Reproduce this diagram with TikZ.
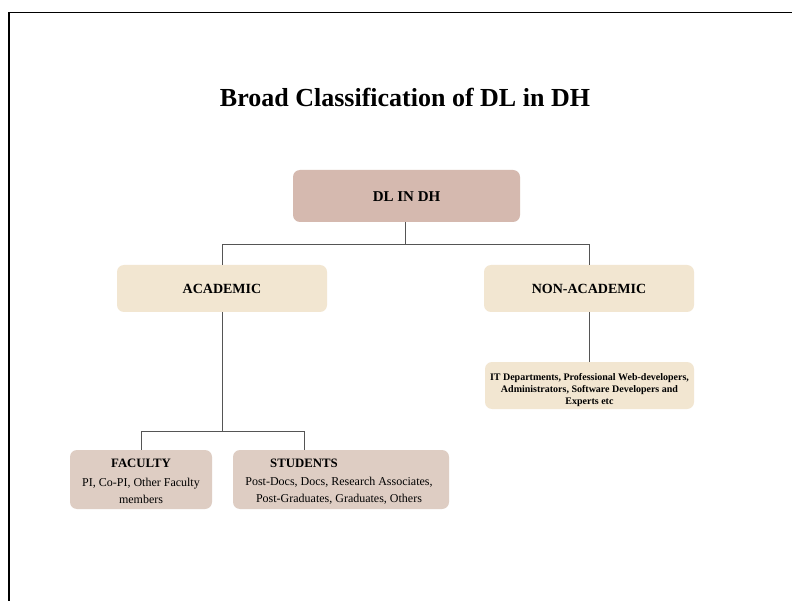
\documentclass[tikz,border=0pt]{standalone}
\usepackage{fontspec}
\setmainfont{Liberation Serif}
\definecolor{rosebox}{HTML}{D5B9AF}
\definecolor{creambox}{HTML}{F2E6D1}
\definecolor{taupebox}{HTML}{DECDC3}
\definecolor{linegray}{HTML}{555555}
\begin{document}
\begin{tikzpicture}[x=1pt,y=-1pt,
  box/.style={rounded corners=7pt, inner sep=0pt, align=center},
  conn/.style={draw=linegray, line width=0.9pt}]
\useasboundingbox (0,0) rectangle (792,601);
\fill[white] (0,0) rectangle (792,601);
\draw[line width=1.2pt] (9,601) -- (9,12.5) -- (792,12.5);
\node[font=\fontsize{26}{30}\selectfont\bfseries] (title) at (405,97) {Broad Classification of DL in DH};
% boxes
\path[box, fill=rosebox] (293,170) rectangle (520,222);
\node[font=\fontsize{15}{17}\selectfont\bfseries] (dl) at (406.5,197) {DL IN DH};
\path[box, fill=creambox] (117,265) rectangle (327,312);
\node[font=\fontsize{14}{16}\selectfont\bfseries] (acad) at (222,289) {ACADEMIC};
\path[box, fill=creambox] (484,265) rectangle (694,312);
\node[font=\fontsize{14}{16}\selectfont\bfseries] (nonacad) at (589,289) {NON-ACADEMIC};
\path[box, fill=creambox] (485,362) rectangle (694,409);
\node[align=center, font=\fontsize{10}{12}\selectfont\bfseries] (it) at (589.5,390) {IT Departments, Professional Web-developers,\\Administrators, Software Developers and\\Experts etc};
\path[box, fill=taupebox] (70,450) rectangle (212,509);
\node[font=\fontsize{12.8}{15}\selectfont\bfseries] (fachead) at (141,463) {FACULTY};
\node[align=center, font=\fontsize{12}{17}\selectfont] (facbody) at (141,490.5) {PI, Co-PI, Other Faculty\\members};
\path[box, fill=taupebox] (233,450) rectangle (449,509);
\node[font=\fontsize{12.8}{15}\selectfont\bfseries] (stuhead) at (304,463) {STUDENTS};
\node[align=center, font=\fontsize{12}{17}\selectfont] (stubody) at (339,490.5) {Post-Docs, Docs, Research Associates,\\Post-Graduates, Graduates, Others};
% coordinates for connectors
\coordinate (dlb) at (405,222);
\coordinate (acadt) at (222,265);
\coordinate (nonacadt) at (589,265);
\coordinate (acadb) at (222,312);
\coordinate (nonacadb) at (589,312);
\coordinate (itt) at (589,362);
\coordinate (fact) at (141,450);
\coordinate (stut) at (304,450);
\draw[conn] (dlb) -- (405,244) -| (acadt);
\draw[conn] (405,244) -| (nonacadt);
\draw[conn] (acadb) -- (222,431) -| (fact);
\draw[conn] (222,431) -| (stut);
\draw[conn] (nonacadb) -- (itt);
\end{tikzpicture}
\end{document}
